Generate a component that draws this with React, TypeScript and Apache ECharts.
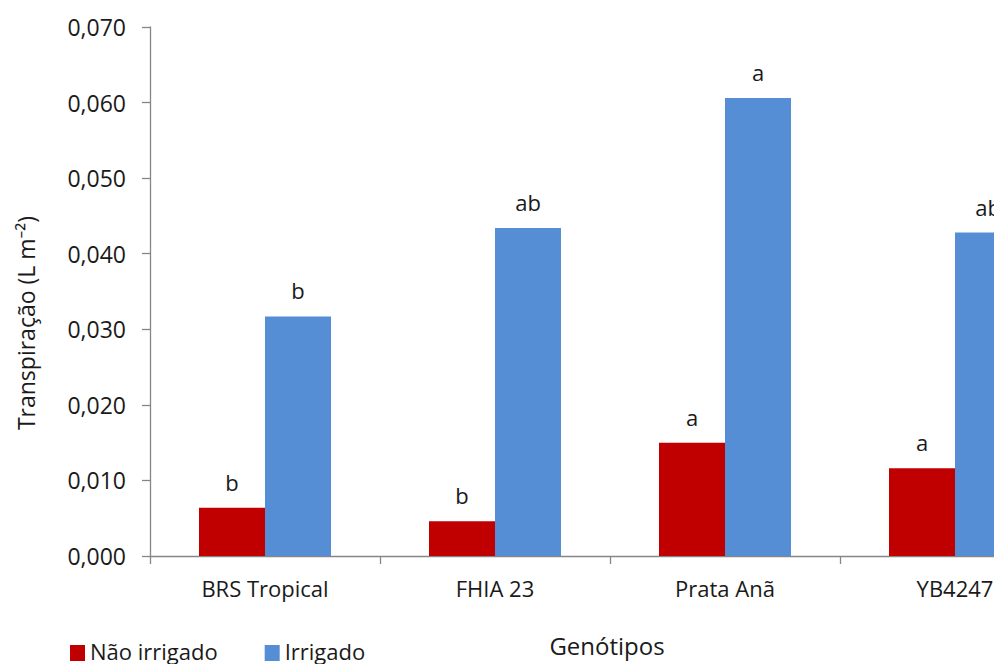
import React, { useEffect, useRef } from "react";
import * as echarts from "echarts";

const categories = ["BRS Tropical", "FHIA 23", "Prata Anã", "YB4247"];
const naoIrrigado = [0.0064, 0.0046, 0.0150, 0.0116];
const irrigado = [0.0317, 0.0434, 0.0606, 0.0428];
const naoIrrigadoLetters = ["b", "b", "a", "a"];
const irrigadoLetters = ["b", "ab", "a", "ab"];
const yTicks = [0, 0.01, 0.02, 0.03, 0.04, 0.05, 0.06, 0.07];

const FONT = "'Open Sans', 'Noto Sans', sans-serif";
const TXT = "#1a1a1a";
const AX = "#868686";

export default function App() {
  const ref = useRef<HTMLDivElement>(null);
  useEffect(() => {
    if (!ref.current) return;
    const chart = echarts.init(ref.current, null, { renderer: "svg" });
    chart.setOption({
      animation: false,
      backgroundColor: "#ffffff",
      textStyle: { fontFamily: FONT },
      grid: { left: 150, top: 27, width: 920, height: 529, containLabel: false },
      legend: {
        left: 70,
        top: 640,
        padding: 0,
        itemWidth: 15,
        itemHeight: 16,
        itemGap: 47,
        icon: "rect",
        formatter: "{t|{name}}",
        textStyle: {
          fontFamily: FONT,
          fontSize: 22,
          color: TXT,
          rich: {
            t: { fontFamily: FONT, fontSize: 22, color: TXT, padding: [0, 0, 4, 0] },
          },
        },
        data: ["Não irrigado", "Irrigado"],
      },
      xAxis: {
        type: "category",
        data: categories,
        axisLine: { lineStyle: { color: AX, width: 1.3 } },
        axisTick: { show: true, length: 8, alignWithLabel: false, lineStyle: { color: AX, width: 1.3 } },
        axisLabel: { fontFamily: FONT, fontSize: 22, color: TXT, margin: 21 },
      },
      yAxis: {
        type: "value",
        min: 0,
        max: 0.07,
        interval: 0.01,
        axisLine: { show: true, lineStyle: { color: AX, width: 1.3 } },
        axisTick: { show: true, length: 8, lineStyle: { color: AX, width: 1.3 } },
        splitLine: { show: false },
        axisLabel: {
          fontFamily: FONT,
          fontSize: 23,
          color: TXT,
          margin: 24,
          formatter: (v: number) => {
            const t = yTicks.find((x) => Math.abs(x - v) < 1e-9);
            return (t !== undefined ? t : v).toFixed(3).replace(".", ",");
          },
        },
      },
      series: [
        {
          name: "Não irrigado",
          type: "bar",
          data: naoIrrigado,
          barWidth: 66,
          barGap: "0%",
          itemStyle: { color: "#C00000" },
          label: {
            show: true,
            position: "top",
            distance: 15,
            fontFamily: FONT,
            fontSize: 22,
            color: TXT,
            formatter: (p: any) => naoIrrigadoLetters[p.dataIndex],
          },
        },
        {
          name: "Irrigado",
          type: "bar",
          data: irrigado,
          barWidth: 66,
          barGap: "0%",
          itemStyle: { color: "#558ED5" },
          label: {
            show: true,
            position: "top",
            distance: 15,
            fontFamily: FONT,
            fontSize: 22,
            color: TXT,
            formatter: (p: any) => irrigadoLetters[p.dataIndex],
          },
        },
      ],
      graphic: [
        {
          type: "text",
          x: 607,
          y: 645,
          style: {
            text: "Genótipos",
            fontFamily: FONT,
            fontSize: 24,
            fill: TXT,
            textAlign: "center",
            textVerticalAlign: "middle",
          },
        },
        {
          type: "text",
          x: 26,
          y: 323,
          rotation: Math.PI / 2,
          style: {
            text: "Transpiração (L m⁻²)",
            fontFamily: FONT,
            fontSize: 23,
            fill: TXT,
            textAlign: "center",
            textVerticalAlign: "middle",
          },
        },
      ],
    });
    return () => chart.dispose();
  }, []);
  return (
    <div style={{ width: 994, height: 664, overflow: "hidden", position: "absolute", left: 0, top: 0 }}>
      <div ref={ref} style={{ width: 1100, height: 664 }} />
    </div>
  );
}
